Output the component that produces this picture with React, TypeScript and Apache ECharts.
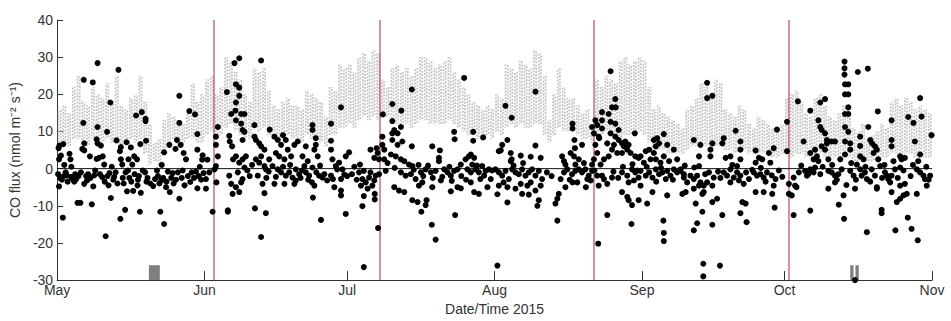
import React, { useEffect, useRef } from "react";
import * as echarts from "echarts";

// ---- axis / tick definitions (days since 1 May 2015) ----
const monthTicks = [0, 31, 61, 92, 123, 153, 184];
const monthLabels = ["May", "Jun", "Jul", "Aug", "Sep", "Oct", "Nov"];
const yMin = -30;
const yMax = 40;
const yStep = 10;

// red vertical event markers (day offsets)
const eventDays = [33, 68, 113, 154];

// grey data-gap bars at the bottom
const gapStart = [19.3, 166.8, 167.9];
const gapEnd = [21.6, 167.5, 168.6];
const gapTop = -26;

// modelled flux: daily range (grey streaks), one value per day from 1 May
const modelHigh = [
  16, 17, 15, 22, 25, 18, 17, 22, 20, 19, 23, 18, 25, 17, 16, 19, 20, 25, 18, 12, 7, 8, 13, 15, 14, 13, 12, 15, 23, 18, 20,
  24, 25, 20, 22, 30, 29, 26, 24, 20, 18, 27, 26, 27, 21, 17, 16, 18, 19, 17, 17, 16, 21, 20, 19, 18, 14, 22, 21, 28, 27,
  28, 26, 30, 31, 29, 32, 31, 24, 22, 27, 28, 26, 27, 25, 27, 30, 30, 29, 27, 28, 29, 30, 26, 24, 22, 20, 18, 17, 16, 17, 16,
  20, 19, 28, 27, 26, 29, 28, 27, 32, 31, 25, 13, 20, 27, 22, 19, 19, 17, 15, 16, 12, 24, 22, 25, 24, 23, 29, 30, 28, 29, 30,
  29, 22, 16, 17, 15, 14, 13, 12, 11, 16, 17, 19, 23, 22, 20, 24, 23, 16, 15, 14, 17, 16, 12, 11, 14, 13, 12, 11, 10, 12,
  19, 20, 21, 18, 15, 14, 19, 20, 17, 14, 13, 15, 17, 16, 11, 10, 12, 8, 9, 10, 12, 11, 18, 19, 17, 19, 18, 16, 17, 16, 15,
];
const modelLow = [
  6, 7, 6, 8, 8, 7, 6, 8, 6, 7, 8, 7, 8, 6, 7, 8, 7, 8, 4, 1, 2, 1, 5, 6, 8, 6, 7, 8, 8, 7, 7,
  9, 10, 8, 9, 11, 12, 10, 9, 8, 8, 11, 10, 11, 9, 8, 7, 8, 9, 8, 8, 7, 9, 8, 8, 7, 6, 9, 9, 11, 11,
  12, 11, 13, 14, 13, 14, 13, 15, 14, 12, 12, 11, 12, 11, 12, 13, 13, 12, 12, 12, 12, 13, 12, 11, 10, 9, 9, 8, 8, 9, 8,
  10, 9, 11, 12, 11, 12, 11, 11, 12, 12, 9, 7, 9, 11, 10, 10, 10, 9, 8, 8, 7, 9, 9, 10, 9, 9, 8, 9, 9, 9, 10,
  9, 7, 5, 5, 5, 4, 4, 4, 4, 5, 6, 6, 7, 6, 5, 6, 6, 5, 5, 4, 5, 5, 4, 4, 4, 4, 4, 3, 3, 4,
  4, 3, 4, 4, 3, 3, 4, 4, 3, 3, 3, 3, 4, 3, 2, 2, 2, 2, 2, 2, 3, 3, 4, 4, 3, 4, 4, 3, 3, 3, 3,
];

// measured flux [day, value]
const obsMay = [
  [0.3, 5.5], [0.5, 6.2], [1.3, 6.6], [0.4, 2.5], [0.8, 3.5], [1.5, 1.0], [0.2, -1.5], [0.6, -2.5], [1.0, -3.0], [1.4, -2.0],
  [1.8, -1.0], [2.2, -3.5], [0.4, -4.8], [2.6, 4.0], [2.8, 2.5], [3.0, 0.5], [2.9, -2.2], [3.3, -2.8], [1.2, -13.2], [4.3, -9.2],
  [4.9, -9.2], [3.8, -1.5], [4.5, -2.0], [5.5, 12.3], [5.6, 23.9], [5.7, 6.8], [5.7, 4.9], [5.3, 5.3], [5.7, -4.1], [6.1, -2.0],
  [6.5, -1.5], [6.9, 3.3], [7.3, -9.6], [7.5, 23.2], [7.6, -4.8], [7.8, -1.8], [8.3, 7.9], [8.5, 11.2], [8.5, 6.8], [8.5, 28.4],
  [9.2, 6.2], [8.8, 2.9], [8.3, 2.6], [9.6, 3.3], [9.9, 1.1], [9.0, -1.5], [9.5, -2.3], [10.5, 9.9], [10.2, -18.2], [10.6, -2.0],
  [11.0, -1.2], [11.2, 17.8], [11.3, -7.9], [11.8, -3.0], [12.5, 7.6], [12.9, 26.6], [12.3, -1.0], [12.7, -4.0], [13.4, 5.8], [13.2, 4.7],
  [13.4, 2.5], [13.7, 1.1], [13.3, -13.5], [13.8, -2.5], [14.3, -11.1], [14.6, 7.1], [14.7, -6.1], [14.4, -1.0], [15.0, 2.5], [15.5, 5.7],
  [15.8, 1.1], [15.2, -2.5], [15.6, -3.5], [16.2, 3.3], [16.6, 14.3], [16.8, 2.5], [16.3, -1.5], [16.9, -4.5], [17.4, -11.6], [17.5, 6.6],
  [17.8, 15.2], [17.2, -2.0], [17.6, -6.5], [18.0, -0.5], [18.6, 13.4], [18.6, 12.8], [18.7, 7.5], [18.5, -1.0], [18.8, -3.5], [19.6, -4.0],
  [20.2, -4.7], [21.0, -0.5], [21.2, -2.0], [21.7, -11.6], [21.5, -4.0], [22.0, 1.0], [22.5, 4.4], [22.5, -14.9], [22.3, -2.5], [22.9, -5.0],
  [23.3, -0.8], [23.6, 6.4], [23.7, -6.3], [24.0, -2.5], [24.5, -4.0], [24.9, 5.3], [25.2, 7.7], [25.7, 12.3], [25.7, 19.6], [25.7, -8.1],
  [25.4, -1.0], [25.0, -3.0], [26.0, 6.4], [26.6, 4.2], [26.2, -2.5], [26.8, -4.5], [27.1, 2.5], [27.8, 15.5], [28.3, -1.0], [28.8, -2.5],
  [29.0, 14.6], [29.5, 9.3], [29.5, 5.1], [29.5, -5.3], [29.2, -0.8], [30.0, 0.5], [30.6, 3.6], [30.5, 2.4], [30.8, -1.2], [31.3, -5.4],
  [2.0, -1.8], [3.6, -3.5], [4.0, -2.8], [5.0, -1.0], [6.3, -3.2], [7.0, -2.5], [8.0, -0.5], [10.0, -3.5], [10.8, -4.5], [11.5, 0.5],
  [12.0, -2.2], [14.0, -4.0], [14.9, -0.5], [16.0, -6.0], [17.0, -3.0], [19.0, -2.5], [20.6, -2.8], [21.9, -3.2], [23.0, -3.5], [24.3, -1.2],
  [26.4, -0.5], [27.5, -2.0], [28.0, -3.6], [29.8, -2.0], [30.3, -3.0],
];
const obsJun = [
  [31.6, 2.4], [32.7, -11.6], [33.4, 8.6], [33.8, 11.2], [33.4, 6.4], [33.8, 3.3], [33.4, 0.7], [33.1, -0.2], [32.0, -1.0], [31.3, -2.8],
  [33.5, -3.7], [35.7, 20.6], [35.9, -11.2], [35.9, -11.6], [36.6, 14.7], [36.8, 6.0], [36.2, 8.8], [36.3, 7.3], [37.3, 28.4], [38.3, 29.7],
  [37.6, 22.7], [38.3, 21.8], [38.3, 19.6], [37.6, 17.8], [37.5, 15.6], [37.6, 13.0], [38.7, 14.7], [38.7, 12.1], [39.0, 10.4], [39.4, 9.9],
  [39.0, 7.7], [39.4, 14.7], [37.0, 2.5], [37.6, 3.3], [38.3, 1.6], [39.0, 2.5], [39.4, 0.3], [39.7, 3.3], [36.6, -4.1], [36.2, -1.9],
  [36.9, -6.8], [37.6, -5.0], [38.3, -6.3], [38.7, -3.7], [38.0, -1.0], [39.0, -2.8], [42.9, 29.1], [41.5, 11.7], [41.5, 8.6], [41.8, 7.7],
  [42.5, 6.8], [42.9, 6.0], [43.6, 5.1], [41.8, 2.5], [42.5, 1.6], [42.9, 3.3], [43.6, 0.7], [43.9, -0.2], [44.6, 2.5], [42.2, -1.9],
  [43.2, -4.1], [43.6, -6.6], [41.6, -10.7], [43.9, -12.0], [42.9, -18.4], [44.7, 10.5], [45.7, 8.6], [46.4, 7.7], [47.1, 6.4], [47.5, 9.0],
  [48.1, 7.7], [46.0, 4.2], [46.7, 3.3], [47.8, 2.5], [48.5, 5.1], [49.2, 3.3], [49.9, 6.4], [50.6, 7.3], [45.3, 0.7], [46.4, -0.2],
  [47.1, -1.0], [48.1, -1.9], [48.8, -1.0], [49.5, -2.4], [50.2, -0.2], [50.9, -1.5], [45.7, -4.1], [47.8, -4.1], [49.9, -4.1], [50.2, -3.2],
  [51.6, 3.3], [52.3, 6.0], [52.7, 2.0], [52.0, 0.7], [52.3, -1.0], [53.0, -1.9], [53.7, 0.3], [53.7, 11.7], [53.7, 10.4], [54.4, 8.2],
  [54.4, 6.4], [54.1, 5.1], [54.8, 3.3], [53.6, -3.7], [54.1, -4.6], [55.1, -1.9], [55.8, -2.4], [53.8, -7.8], [55.5, -13.8], [57.6, 12.1],
  [57.6, 7.5], [57.6, 5.1], [57.9, 2.5], [58.6, 0.7], [58.9, -0.2], [59.3, 1.6], [59.7, -2.8], [60.0, -0.2], [57.6, -1.9], [59.7, 16.5],
  [58.3, -5.0], [59.7, -5.9], [59.7, -7.2], [60.7, -12.2], [60.7, 3.3], [61.4, 4.4],
  [40.0, -0.5], [40.5, -2.0], [41.0, 1.0], [44.0, -2.5], [44.5, -0.8], [46.0, -2.2], [47.5, 0.5], [49.0, 1.0], [51.2, -2.5], [51.5, -0.5],
  [52.8, -3.0], [54.5, -1.0], [55.3, 0.8], [56.2, -1.5], [56.8, -3.2], [58.0, -2.8], [60.4, -1.6], [61.0, -2.0],
];
const obsJul = [
  [64.5, -26.5], [67.5, -16.0], [64.2, -10.1], [64.5, -7.4], [66.8, -6.8], [66.8, -8.3], [63.7, 1.1], [65.9, 5.1], [67.2, 5.5], [67.4, 4.2],
  [68.4, 6.4], [68.8, 5.1], [68.8, 2.5], [67.7, 2.5], [66.7, 2.9], [68.4, 8.6], [68.5, 14.6], [63.5, -1.0], [64.2, -2.8], [64.9, -3.7],
  [65.6, -2.4], [66.3, -4.6], [67.0, -1.9], [67.7, -1.5], [63.9, -4.6], [65.3, -5.4], [65.9, -1.0], [64.5, -0.6], [66.7, -3.2], [69.1, -0.6],
  [70.5, 17.4], [72.4, 15.6], [70.5, 12.8], [70.9, 10.4], [70.5, 9.5], [71.6, 9.5], [72.3, 11.2], [72.6, 7.3], [70.5, 7.7], [71.6, 6.4],
  [74.6, 21.3], [74.6, 6.0], [70.2, 3.8], [71.2, 3.3], [72.3, 2.5], [73.0, 2.0], [74.0, 1.1], [74.7, 0.7], [72.3, -1.0], [73.3, -1.9],
  [74.4, -1.5], [75.4, -2.8], [76.5, -1.0], [77.5, -0.2], [78.6, -1.0], [79.6, -0.6], [70.9, -5.0], [71.9, -5.9], [73.0, -6.3], [76.1, -4.6],
  [76.8, -3.7], [78.9, -5.0], [80.7, -3.2], [74.7, -8.5], [75.8, -9.0], [76.6, -11.6], [77.7, -8.5], [77.5, -9.8], [78.8, -15.1], [79.6, -19.1],
  [78.9, 6.0], [80.5, 4.9], [80.3, 2.9], [80.3, 2.0], [81.4, -0.2], [82.1, -1.0], [82.8, -1.9], [83.5, -0.6], [84.2, -0.2], [84.9, 1.1],
  [82.8, -6.1], [84.2, -5.0], [84.9, -5.3], [83.7, -12.5], [83.5, 9.9], [83.6, 7.9], [85.6, 24.4], [85.9, 2.5], [86.6, 3.3], [87.0, 3.8],
  [87.7, 2.9], [87.3, 1.1], [86.3, -0.2], [87.0, -1.0], [88.0, -0.2], [88.7, -1.0], [87.5, 9.9], [87.5, 7.5], [89.6, 8.4], [87.7, -6.3],
  [88.7, -6.8], [87.0, -3.7], [89.4, 0.7], [90.1, -0.6], [90.8, -0.2], [91.2, -2.8], [90.5, -5.0], [89.8, -1.9],
  [62.0, -1.5], [62.5, 0.5], [63.0, -3.0], [69.5, 1.5], [71.0, 0.2], [75.0, -0.3], [76.0, 1.0], [77.0, -2.0], [78.0, 0.8], [79.0, -2.5],
  [81.0, -2.2], [82.5, 0.5], [83.0, -3.3], [85.0, -2.0], [86.0, -3.0], [88.3, 0.8], [89.0, -2.8], [91.5, -0.5],
];
const obsAug = [
  [92.6, -6.9], [92.6, -26.1], [92.9, 4.7], [94.3, 16.9], [95.6, 13.7], [100.6, 20.7], [94.7, 7.7], [93.6, 6.4], [93.3, 4.9], [95.4, 4.2],
  [95.4, 2.0], [92.2, -0.2], [92.9, -1.0], [93.6, -1.9], [94.3, -0.6], [95.0, -2.8], [95.7, -0.2], [96.4, -1.0], [97.1, -1.5], [97.8, -0.2],
  [98.5, -1.9], [99.2, -1.0], [99.9, -0.2], [100.6, -1.9], [101.3, -0.6], [102.0, -2.8], [92.9, -4.6], [93.9, -3.7], [94.7, -5.0], [96.4, -5.4],
  [97.5, -4.1], [98.9, -4.6], [99.6, -3.7], [100.6, -5.9], [101.7, -4.6], [94.7, -9.1], [97.8, -6.8], [99.2, -7.0], [101.0, -10.0], [101.3, -8.5],
  [97.5, 3.5], [99.6, 3.2], [100.6, 6.2], [101.7, 2.9], [95.6, 2.5], [105.2, -14.0], [104.8, -9.4], [105.2, -8.1], [105.5, -6.8], [106.9, -5.0],
  [105.9, -2.8], [106.6, -1.0], [107.3, -0.2], [108.3, -1.5], [109.0, -0.6], [109.7, -0.2], [110.4, -1.0], [111.1, -0.2], [111.8, -1.9], [112.5, -0.6],
  [106.2, 3.3], [106.6, 2.0], [106.9, 1.1], [108.0, 4.2], [108.7, 3.3], [109.0, 1.1], [109.7, 2.5], [110.4, 6.4], [108.4, 12.1], [108.4, 10.8],
  [108.8, 7.7], [108.9, 5.5], [108.4, -3.7], [109.4, -3.7], [111.2, -5.0], [112.2, -3.2], [112.5, 11.2], [113.2, 13.0], [113.6, 11.7], [112.9, 9.5],
  [113.9, 8.6], [113.2, 6.4], [113.6, 4.2], [112.9, 2.5], [112.5, 1.1], [113.8, -20.2], [113.9, -4.6], [113.6, -1.9], [116.4, 26.2], [114.6, 15.2],
  [116.0, 14.7], [116.7, 16.5], [117.5, 16.5], [117.4, 18.7], [114.6, 13.0], [116.4, 12.6], [117.4, 12.1], [118.1, 10.4], [114.6, 10.8], [116.4, 9.5],
  [117.4, 8.6], [114.0, 8.2], [115.7, 6.8], [117.1, 6.4], [118.1, 7.7], [118.8, 6.8], [119.5, 7.3], [120.2, 6.4], [119.2, 6.0], [119.9, 5.1],
  [118.8, 4.2], [120.6, 4.2], [116.7, 5.1], [117.8, 4.2], [116.0, 3.3], [115.0, 2.5], [114.3, 1.1], [114.6, -1.9], [115.0, -2.8], [115.7, -4.1],
  [116.7, -2.4], [118.8, -1.0], [119.9, -1.9], [120.9, -0.2], [121.6, -1.0], [122.3, -2.4], [120.2, -3.7], [121.3, -3.2], [115.7, -12.5], [118.8, -6.3],
  [120.2, -8.5], [120.9, -9.8], [122.3, -8.5], [119.9, -7.6], [120.8, -14.9], [121.5, 9.5], [121.6, 3.3], [122.3, 2.9],
  [96.0, 0.8], [98.0, 1.5], [103.0, -1.0], [104.0, -2.0], [107.8, -3.0], [110.8, 1.5], [111.5, -2.8], [113.0, -0.5], [117.0, -0.8], [118.0, -2.5],
  [119.0, 0.5], [121.0, 1.2], [122.0, -0.5],
];
const obsSep = [
  [122.7, 3.3], [123.8, 4.7], [124.5, 5.1], [123.4, 1.6], [124.8, 2.5], [125.5, 4.2], [125.9, 6.0], [125.5, 7.7], [126.2, 8.2], [126.6, 6.8],
  [125.9, 2.5], [126.9, 1.6], [127.6, 3.3], [127.6, 9.3], [122.7, -0.6], [123.8, -1.9], [124.5, -1.0], [125.2, -2.4], [125.9, -0.2], [126.6, -1.5],
  [127.3, -1.0], [128.3, -0.6], [129.0, -1.9], [129.7, -0.2], [130.4, -1.0], [131.1, -0.6], [131.8, -1.5], [128.0, -2.8], [122.7, -4.6], [124.1, -9.4],
  [125.2, -6.3], [128.3, -7.2], [136.7, 23.1], [136.7, 19.0], [137.8, 19.6], [127.5, -14.0], [127.6, -17.3], [127.6, -19.5], [128.3, 6.4], [129.7, 5.1],
  [128.7, 2.0], [130.4, 2.5], [131.1, -0.2], [131.8, -2.4], [132.5, -3.7], [133.2, -1.9], [133.9, -2.8], [134.6, -1.9], [135.3, -3.7], [131.5, -6.8],
  [132.2, -6.3], [133.9, -5.4], [135.0, -4.6], [136.0, -4.6], [136.0, -6.3], [133.9, 7.7], [135.0, 3.3], [135.3, 6.4], [135.0, 0.7], [134.3, -9.4],
  [135.7, -6.8], [135.7, -11.6], [134.6, -14.7], [137.8, -15.1], [138.8, -8.1], [137.8, -9.0], [139.9, -12.5], [133.9, -16.6], [135.9, -25.6], [135.9, -29.0],
  [139.4, -26.1], [137.4, 5.1], [137.8, 6.8], [137.4, 3.3], [137.1, -1.0], [137.8, -4.6], [136.7, -3.7], [138.1, -2.4], [139.9, 6.8], [140.6, 2.9],
  [141.6, 3.3], [140.2, 8.2], [140.2, -1.0], [140.9, -1.9], [141.6, -3.7], [142.3, -2.4], [143.0, -1.0], [143.4, -3.2], [143.7, -1.9], [144.4, -4.1],
  [141.6, -0.2], [143.0, 0.7], [142.7, 10.2], [143.7, 7.3], [143.7, 5.1], [143.7, 2.5], [144.1, -9.0], [144.8, -9.4], [143.7, -12.0], [145.0, -14.4],
  [146.5, -1.0], [147.2, -1.9], [147.9, -1.5], [148.6, -2.4], [149.3, -1.0], [146.9, -6.3], [148.6, -6.3], [150.4, -6.8], [146.9, 4.9], [147.6, 2.9],
  [148.3, 2.5], [149.7, 4.2], [150.0, 1.6], [146.9, 1.6], [150.7, 5.5], [151.4, 10.5], [150.7, -4.6], [151.1, -2.8], [150.9, -10.5], [153.5, 12.6],
  [153.5, 4.7], [153.9, -4.1], [153.9, -6.8],
  [124.0, 0.5], [126.0, -3.5], [127.0, 0.2], [129.5, -3.0], [132.0, 0.8], [134.0, 0.3], [136.3, -1.5], [139.0, -0.8], [139.5, -2.5], [142.0, 1.0],
  [144.9, -1.0], [145.5, -2.8], [146.2, -0.3], [148.0, 0.2], [149.0, -3.5], [150.3, -1.8], [151.8, -0.5], [152.5, -2.2],
];
const obsOct = [
  [155.8, 18.1], [154.9, -2.4], [155.2, -4.6], [154.5, -7.2], [155.5, -5.0], [154.9, -12.5], [157.0, 7.3], [157.3, -0.6], [157.7, -1.9], [158.0, -1.5],
  [158.4, -0.2], [159.1, -1.0], [159.4, 0.3], [158.4, 15.6], [158.4, 4.2], [159.1, 2.5], [159.4, 5.1], [159.8, 3.3], [160.1, 2.0], [158.4, -11.3],
  [160.5, 17.8], [161.5, 18.7], [160.1, 13.0], [160.5, 11.2], [160.8, 10.4], [161.5, 9.5], [161.9, 7.7], [160.8, 6.0], [161.5, 5.1], [162.2, 2.5],
  [161.9, 6.8], [162.9, 7.3], [163.6, 7.3], [162.2, -0.6], [162.9, -1.0], [163.6, -1.9], [164.3, -1.5], [165.0, -0.2], [162.2, -5.4], [163.6, -3.7],
  [164.7, 2.5], [164.4, -9.7], [165.4, -7.2], [165.5, -13.5], [166.0, -4.4], [165.6, 28.8], [165.6, 27.0], [165.6, 25.3], [165.7, 22.7], [165.7, 20.0],
  [166.4, 22.7], [166.4, 20.0], [165.7, 14.7], [166.4, 14.7], [165.7, 11.2], [166.4, 9.9], [165.7, 7.3], [165.7, 3.8], [166.8, 6.8], [166.8, 5.1],
  [166.4, 16.5], [168.4, 26.0], [170.5, 26.9], [166.8, -0.6], [167.5, -1.9], [167.8, -5.4], [168.2, 1.1], [168.9, -0.2], [169.2, -1.9], [169.9, -1.0],
  [170.3, -2.8], [169.6, 2.5], [168.9, 3.3], [168.9, 6.1], [168.9, 8.6], [170.6, 11.2], [171.0, 7.7], [171.4, 6.8], [172.0, 6.0], [172.4, 5.1],
  [171.7, 4.2], [172.7, 2.5], [170.3, -17.1], [172.6, 15.4], [171.3, -0.2], [172.0, -1.9], [172.4, -5.0], [172.4, -5.4], [173.1, 0.7], [173.4, -11.1],
  [173.4, -12.0], [174.1, -1.0], [174.5, -1.9], [174.8, -2.8], [175.2, -3.7], [175.5, -1.9], [175.5, -6.3], [175.5, 13.0], [175.5, 7.7], [175.5, 6.0],
  [175.9, 2.0], [176.2, -0.2], [177.3, 0.3], [177.6, 2.5], [177.3, 3.3], [178.3, 2.9], [176.6, -9.0], [177.3, -8.1], [178.0, -7.2], [178.7, -6.8],
  [178.3, -4.1], [177.3, -4.6], [176.3, -16.6], [178.9, -13.2], [179.7, -16.2], [179.0, 13.9], [180.1, 12.3], [181.5, 19.0], [181.8, 14.0], [180.4, 7.3],
  [181.1, 2.0], [181.5, 3.8], [180.8, -0.2], [181.5, -1.0], [182.2, -1.9], [182.5, -2.8], [182.9, -4.6], [183.6, -1.9], [183.9, 9.0], [180.8, -6.8],
  [181.0, -19.3], [167.8, -30.0],
  [156.0, -1.0], [156.5, 0.8], [160.5, -1.5], [161.0, 0.5], [163.0, 1.0], [164.0, -3.0], [167.0, 1.5], [168.0, -3.0], [170.0, 0.5], [171.0, -3.5],
  [173.5, -2.5], [174.0, 1.0], [176.8, -2.5], [178.0, -0.5], [179.5, -2.0], [180.0, 1.0], [182.8, 0.5], [183.3, -3.0],
];

const FONT = "'Liberation Sans', Arial, Helvetica, sans-serif";
const TEXT = "#333";
const STREAK_OFFSETS = [0.3, 0.75];
const STREAK_DASH_SHIFT = [0, 1.7];

export default function App() {
  const ref = useRef<HTMLDivElement>(null);

  useEffect(() => {
    if (!ref.current) return;
    const chart = echarts.init(ref.current, undefined, { renderer: "svg" });

    const modelData = modelHigh.map((h, i) => [i, modelLow[i], h]);
    const gapData = gapStart.map((s, i) => [s, gapEnd[i], gapTop]);
    const obsData = [...obsMay, ...obsJun, ...obsJul, ...obsAug, ...obsSep, ...obsOct];

    const option: any = {
      animation: false,
      grid: { left: 56, right: 19, top: 20, bottom: 35, containLabel: false },
      xAxis: {
        type: "value",
        min: monthTicks[0],
        max: monthTicks[monthTicks.length - 1],
        axisLine: { show: true, onZero: false, lineStyle: { color: "#333", width: 1 } },
        axisTick: { show: true, inside: true, length: 9, customValues: monthTicks, lineStyle: { color: "#333" } },
        axisLabel: {
          customValues: monthTicks,
          formatter: (v: number) => monthLabels[monthTicks.indexOf(v)] ?? "",
          color: TEXT,
          fontSize: 14,
          fontFamily: FONT,
          margin: 3,
        },
        splitLine: { show: false },
        name: "Date/Time 2015",
        nameLocation: "middle",
        nameGap: 15,
        nameTextStyle: { color: TEXT, fontSize: 14, fontFamily: FONT },
      },
      yAxis: {
        type: "value",
        min: yMin,
        max: yMax,
        interval: yStep,
        axisLine: { show: true, onZero: false, lineStyle: { color: "#333", width: 1 } },
        axisTick: { show: true, inside: true, length: 6, lineStyle: { color: "#333" } },
        axisLabel: { color: TEXT, fontSize: 14, fontFamily: FONT, margin: 4 },
        splitLine: { show: false },
        name: "CO flux (nmol m\u207B\u00B2 s\u207B\u00B9)",
        nameLocation: "middle",
        nameRotate: 90,
        nameGap: 27,
        nameTextStyle: { color: TEXT, fontSize: 14, fontFamily: FONT },
      },
      series: [
        {
          type: "custom",
          name: "model",
          z: 1,
          clip: true,
          data: modelData,
          encode: { x: 0, y: [1, 2] },
          renderItem: (params: any, api: any) => {
            const d = api.value(0);
            const lo = api.value(1);
            const hi = api.value(2);
            const children: any[] = STREAK_OFFSETS.map((off, k) => {
              const a = api.coord([d + off, lo]);
              const b = api.coord([d + off, hi]);
              return {
                type: "line",
                shape: { x1: a[0], y1: a[1], x2: b[0], y2: b[1] },
                style: {
                  stroke: "#c4c4c4",
                  lineWidth: 1.7,
                  lineDash: [2, 1.3],
                  lineDashOffset: STREAK_DASH_SHIFT[k] + (d % 3) * 0.6,
                },
              };
            });
            return { type: "group", children };
          },
        },
        {
          type: "custom",
          name: "gaps",
          z: 2,
          data: gapData,
          encode: { x: [0, 1], y: 2 },
          renderItem: (params: any, api: any) => {
            const a = api.coord([api.value(0), yMin]);
            const b = api.coord([api.value(1), api.value(2)]);
            return {
              type: "rect",
              shape: { x: a[0], y: b[1], width: b[0] - a[0], height: a[1] - b[1] },
              style: { fill: "#7f7f7f" },
            };
          },
        },
        {
          type: "custom",
          name: "events",
          z: 3,
          data: eventDays.map((d) => [d]),
          encode: { x: 0 },
          renderItem: (params: any, api: any) => {
            const a = api.coord([api.value(0), yMin]);
            const b = api.coord([api.value(0), yMax]);
            return {
              type: "rect",
              shape: { x: Math.round(a[0]) - 0.5, y: b[1], width: 1, height: a[1] - b[1] },
              style: { fill: "#a52a2a" },
            };
          },
        },
        {
          type: "custom",
          name: "zero",
          z: 3,
          data: [[0]],
          encode: { y: 0 },
          renderItem: (params: any, api: any) => {
            const a = api.coord([monthTicks[0], api.value(0)]);
            const b = api.coord([monthTicks[monthTicks.length - 1], api.value(0)]);
            return {
              type: "line",
              shape: { x1: a[0], y1: a[1], x2: b[0], y2: b[1] },
              style: { stroke: "#111", lineWidth: 1 },
            };
          },
        },
        {
          type: "scatter",
          name: "measured",
          z: 4,
          symbol: "circle",
          symbolSize: 6,
          itemStyle: { color: "#000", opacity: 1 },
          data: obsData,
        },
      ],
    };

    chart.setOption(option);
    return () => chart.dispose();
  }, []);

  return <div ref={ref} style={{ width: 951, height: 321, position: "absolute", left: 0, top: 0, background: "#fff" }} />;
}
